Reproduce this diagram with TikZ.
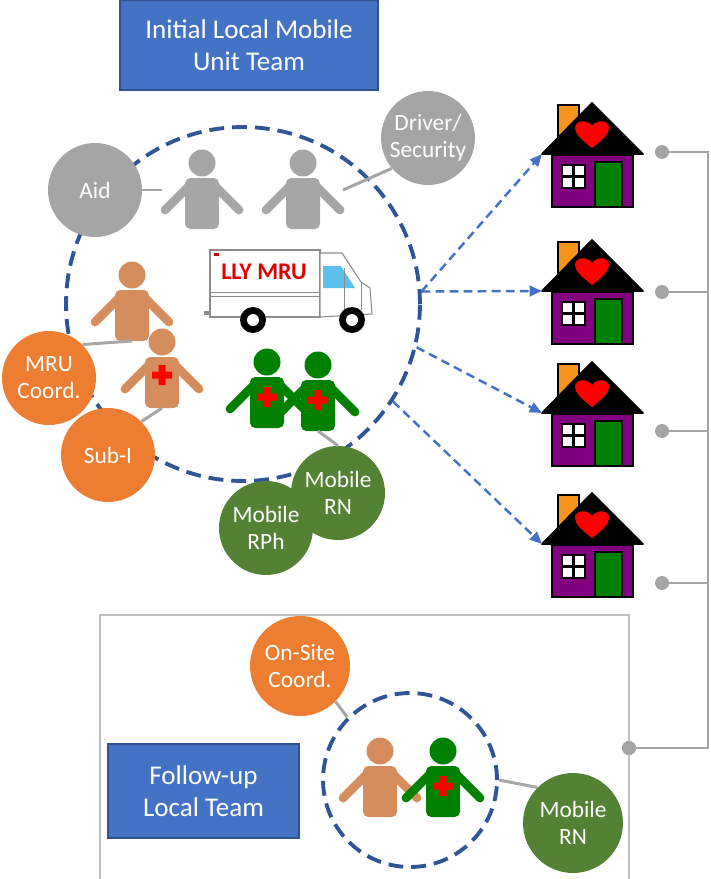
\documentclass[tikz,border=0pt]{standalone}
\usepackage{fontspec}
\setmainfont{Carlito}
\usetikzlibrary{arrows.meta}

\definecolor{teamblue}{HTML}{4472C4}
\definecolor{teamedge}{HTML}{2F528F}
\definecolor{ringblue}{HTML}{2F5597}
\definecolor{arrowblue}{HTML}{4472C4}
\definecolor{rolegray}{HTML}{A5A5A5}
\definecolor{roleorange}{HTML}{ED7D31}
\definecolor{rolegreen}{HTML}{548235}
\definecolor{persongray}{HTML}{A6A6A6}
\definecolor{persontan}{HTML}{D68D5E}
\definecolor{persongreen}{HTML}{008000}
\definecolor{linkgray}{HTML}{A6A6A6}
\definecolor{dotgray}{HTML}{A5A5A5}
\definecolor{framegray}{HTML}{BFBFBF}
\definecolor{wallpurple}{HTML}{800080}
\definecolor{doorgreen}{HTML}{008000}
\definecolor{chimneyorange}{HTML}{F7941D}
\definecolor{vanedge}{HTML}{8C8C8C}
\definecolor{vanglass}{HTML}{5BC0EB}

\tikzset{
  person colour/.store in=\personcol,
  person colour=persongray,
  % stick figure, origin at the head
  person/.pic={
    \draw[\personcol, line width=5pt, line cap=round] (-12,22) -- (-37,47) (12,22) -- (37,47);
    \fill[\personcol, rounded corners=3pt] (-17,15) rectangle (17,66);
    \fill[\personcol] (0,0) circle (13.5);
    \coordinate (-foot) at (0,66);
    \coordinate (-west) at (-40,27);
    \coordinate (-east) at (40,27);
  },
  medic/.pic={
    \fill[red] (-10,-3.5) rectangle (10,3.5) (-3.5,-10) rectangle (3.5,10);
  },
  % house, origin at the roof top
  house/.pic={
    \filldraw[fill=chimneyorange, draw=black, line width=1pt] (-34,2) rectangle (-13,36);
    \filldraw[black, line width=1pt, line join=round] (0,0) -- (51,51) -- (-50,51) -- cycle;
    \fill[red] (0,45) .. controls (-10,37) and (-17,31) .. (-17,25)
      .. controls (-17,17) and (-5,16) .. (0,23)
      .. controls (5,16) and (17,17) .. (17,25)
      .. controls (17,31) and (10,37) .. (0,45) -- cycle;
    \filldraw[fill=wallpurple, draw=black, line width=1.6pt] (-40,52) rectangle (41,104);
    \filldraw[fill=doorgreen, draw=black, line width=1.6pt] (3,59) rectangle (30,104);
    \filldraw[fill=white, draw=black, line width=1.6pt] (-30,62) rectangle (-7,85);
    \draw[black, line width=1.6pt] (-18.5,62) -- (-18.5,85) (-30,73.5) -- (-7,73.5);
    \coordinate (-eave) at (-50,51);
  },
}

\begin{document}
\begin{tikzpicture}[
    x=0.02cm, y=-0.02cm,
    every node/.style={align=center, inner sep=0pt},
    teambox/.style={rectangle, fill=teamblue, draw=teamedge, line width=0.8pt, text=white,
      minimum height=1.8cm, font=\fontsize{15.4}{18.2}\selectfont},
    role/.style={circle, minimum size=1.88cm, text=white, font=\fontsize{13.3}{15.3}\selectfont},
    ring/.style={circle, draw=ringblue, line width=2.2pt, dash pattern=on 8.5pt off 4.5pt},
    link/.style={draw=linkgray, line width=1.7pt},
    visit/.style={draw=arrowblue, line width=1.4pt, dash pattern=on 5pt off 3pt,
      -{Triangle[length=7pt,width=6pt]}},
    dot/.style={circle, fill=dotgray, minimum size=0.28cm},
    busline/.style={draw=dotgray, line width=1.1pt},
  ]
  \useasboundingbox (0,0) rectangle (710,879);

  % Mobile unit ------------------------------------------------
  \node[teambox, minimum width=5.16cm] (initial) at (249,45) {Initial Local Mobile\\Unit Team};
  \node[ring, minimum size=7.08cm] (mru) at (243,304) {};

  \node[role, fill=rolegray] (aid) at (95,190) {Aid};
  \node[role, fill=rolegray] (driver) at (428,138) {Driver/\\Security};
  \node[role, fill=roleorange] (mrucoord) at (49,378) {MRU\\Coord.};
  \node[role, fill=roleorange] (subi) at (108,455) {Sub-I};
  \node[role, fill=rolegreen] (rn) at (338,493) {Mobile\\RN};
  \node[role, fill=rolegreen] (rph) at (266,528) {Mobile\\RPh};

  \pic (p1) at (202,163) {person};
  \pic (p2) at (303,163) {person};
  \pic[person colour=persontan] (p3) at (132,275) {person};
  \pic[person colour=persontan] (p4) at (162,342) {person};
  \pic at (162,375) {medic};
  \pic[person colour=persongreen] (p5) at (267,362) {person};
  \pic at (267,397) {medic};
  \pic[person colour=persongreen] (p6) at (318,365) {person};
  \pic at (318,400) {medic};

  \draw[link] (aid.east) -- (p1-west);
  \draw[link] (driver.220) -- (p2-east);
  \draw[link] (mrucoord.45) -- (p3-foot);
  \draw[link] (subi.45) -- (p4-foot);
  \draw[link] (p6-foot) -- (rn.north);

  % van
  \filldraw[fill=white, draw=vanedge, line width=0.6pt] (210,250) rectangle (320,317);
  \draw[vanedge, line width=0.5pt] (211,292) -- (319,292) (211,296) -- (319,296);
  \filldraw[fill=white, draw=vanedge, line width=0.6pt]
    (320,253) -- (342,253) -- (361,282) -- (370,288) -- (372,314) -- (320,317) -- cycle;
  \fill[vanglass] (323,266) -- (341,266) -- (355,288) -- (323,288) -- cycle;
  \draw[vanedge, line width=0.5pt] (344,268) -- (344,312) (361,282) -- (361,310);
  \fill[vanedge] (204,311) rectangle (211,315);
  \fill[red!75!black] (214,253) rectangle (219,256);
  \foreach \wx in {253,352} {
    \fill[black] (\wx,320) circle (13);
    \fill[white] (\wx,320) circle (6);
  }
  \node[text=red!90!black, font=\bfseries\fontsize{13.6}{15}\selectfont] (vanlabel) at (264,272) {LLY MRU};

  % Homes ------------------------------------------------
  \pic (h1) at (592,103) {house};
  \pic (h2) at (592,240) {house};
  \pic (h3) at (592,362) {house};
  \pic (h4) at (592,493) {house};

  \draw[visit] (mru.4) -- (h1-eave);
  \draw[visit] (mru.4) -- (h2-eave);
  \draw[visit] (mru.-14) -- (h3-eave);
  \draw[visit] (mru.-33) -- (h4-eave);

  \node[dot] (d1) at (662,152) {};
  \node[dot] (d2) at (662,292) {};
  \node[dot] (d3) at (662,431) {};
  \node[dot] (d4) at (662,583) {};
  \node[dot] (d5) at (629,748) {};
  \coordinate (spine) at (708,0);

  \draw[busline] (d1.center) -- (d1 -| spine) -- (spine |- d5) -- (d5.center);
  \foreach \d in {d2,d3,d4}
    \draw[busline] (\d.center) -- (\d -| spine);

  % Follow-up team ------------------------------------------------
  \draw[framegray, line width=0.9pt] (100,879) -- (100,615) -- (629,615) -- (629,879);
  \node[dot] at (d5) {};

  \node[teambox, minimum width=3.82cm, minimum height=1.88cm] (followup) at (203.5,791) {Follow-up\\Local Team};
  \node[ring, minimum size=3.48cm] (team) at (410,780) {};
  \node[role, minimum size=2cm, fill=roleorange] (onsite) at (300,666) {On-Site\\Coord.};
  \node[role, minimum size=2cm, fill=rolegreen] (rn2) at (573,823) {Mobile\\RN};

  \pic[person colour=persontan] (f1) at (380,751) {person};
  \pic[person colour=persongreen] (f2) at (443,751) {person};
  \pic at (443,786) {medic};

  \draw[link] (onsite.-45) -- (team.135);
  \draw[link] (team.east) -- (rn2.135);
\end{tikzpicture}
\end{document}
